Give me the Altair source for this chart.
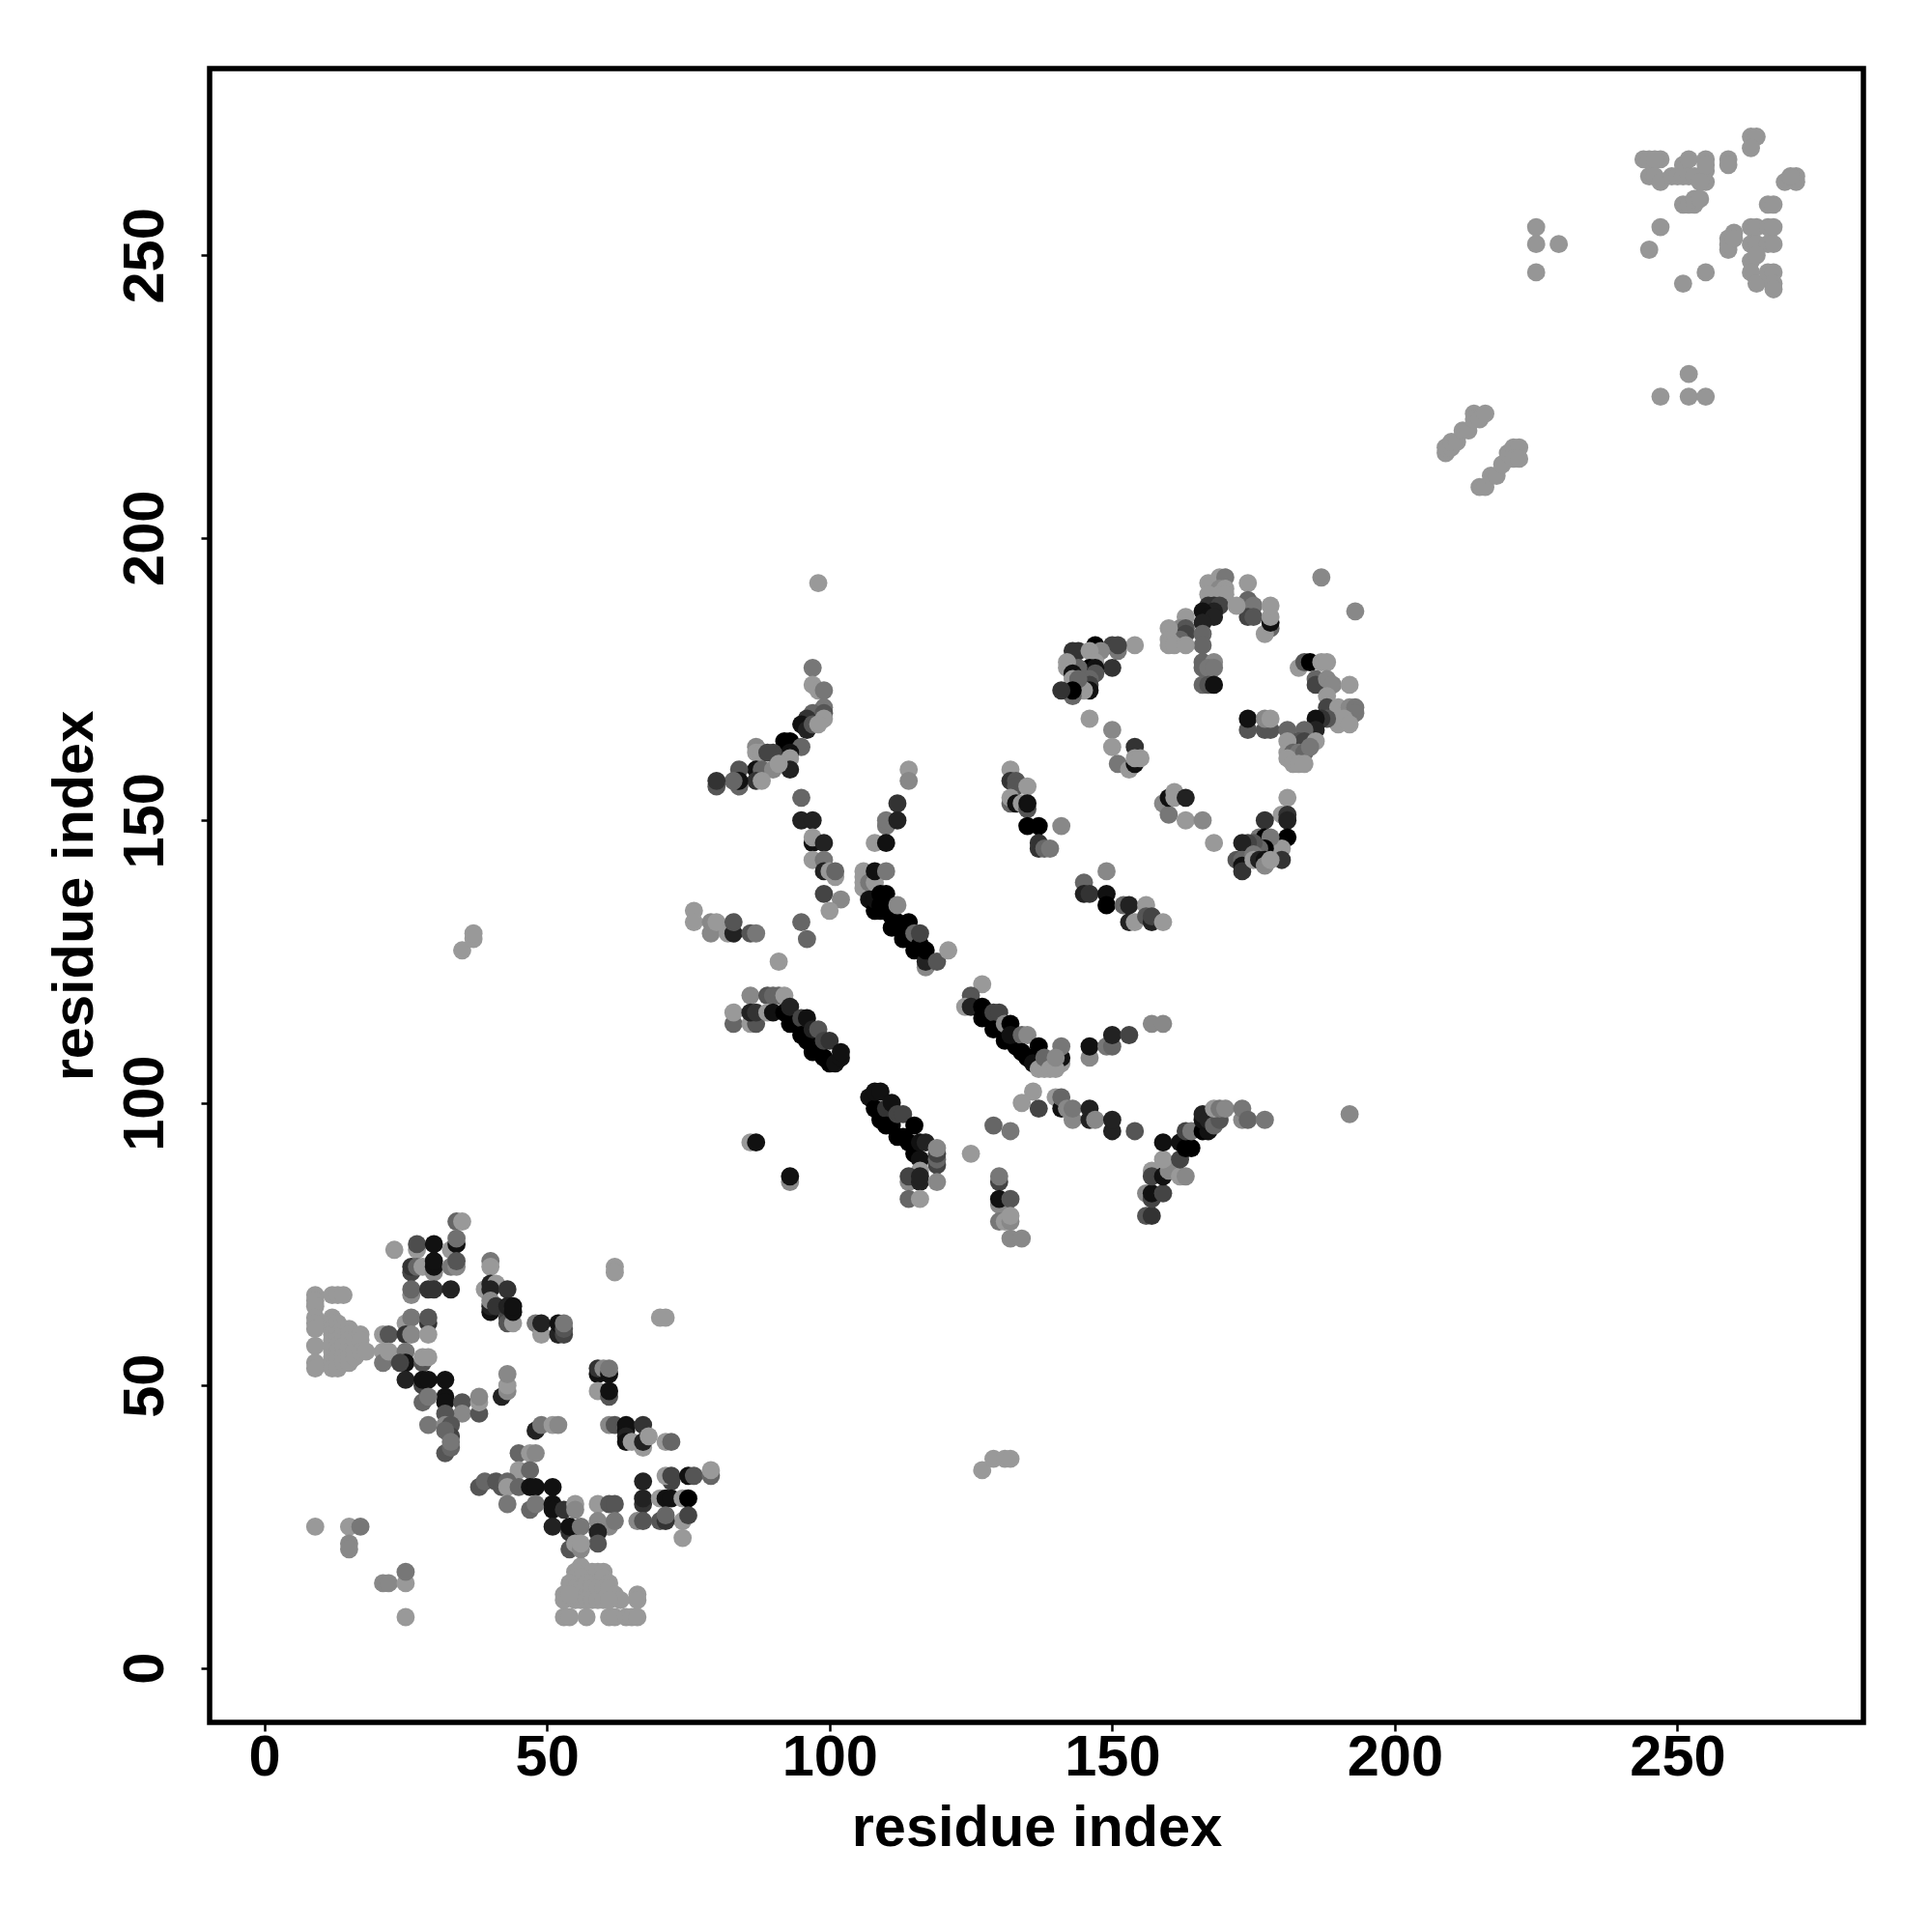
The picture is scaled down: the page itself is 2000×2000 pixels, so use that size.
import altair as alt
import pandas as pd

L = 0x99
M = 0x88

light_far = [(35,127),(37,129),(37,130),(127,35),(129,37),(131,37),(132,37)]

block_left = [(9,66),(9,65),(9,64),(9,62),(9,61),(9,60),(9,57),(9,54),(9,53),(12,66),(13,66),(14,66),
 (12,62),(12,61),(12,60),(12,59),(12,58),(12,57),(12,56),(12,55),(12,54),(12,53),(13,61),(13,60),(13,59),(13,58),
 (13,57),(13,56),(13,55),(13,54),(13,53),(14,60),(14,59),(14,58),(14,57),(14,55),(14,54),(15,60),(15,59),(15,58),
 (15,57),(15,56),(15,55),(15,54),(16,58),(16,56),(16,55),(17,59),(17,58),(17,56),(18,56)]

block_bottom = [(53,9),(54,9),(57,9),(61,9),(62,9),(64,9),(65,9),(66,9),(66,13),(66,12),(53,13),(53,12),(56,18),
 (55,17),(58,17),(59,17),(60,17),(55,16),(56,16),(54,15),(54,14),(55,14),(56,14),(57,15),(58,15),(59,15),(60,16),(61,15),
 (57,13),(58,14),(59,14),(60,14),(61,14),(62,13),(63,12),(55,12),(56,12),(57,12),(58,12),(59,12),(60,12),(61,12),(54,13)]

cluster_low = [
 (34,79,0x66),(35,79,0x99),(23,74,0x99),(27,74,0x99),(27,75,0x4d),(30,75,0x11),(33,74,0x99),(34,75,0x11),(34,76,0x70),
 (26,70,0x44),(26,71,0x33),(27,71,0x66),(28,71,0x99),(30,70,0x88),(30,71,0x11),(30,72,0x11),(33,71,0x77),(34,71,0x88),(34,72,0x55),
 (26,66,0x88),(26,67,0x66),(29,67,0x33),(30,67,0x33),(33,67,0x22),(62,71,L),(62,70,L),(70,62,L),(71,62,L),
 (21,59,L),(21,56,L),(21,54,0x77),(22,59,0x55),(22,56,L),(25,61,L),(25,59,0x33),(26,62,0x77),(26,59,0x88),(29,61,0x33),(29,62,0x55),(29,59,L),
 (25,56,0x77),(25,54,0x11),(24,54,0x44),(28,54,0x55),(28,55,L),(29,55,L),
 (25,51,0x22),(28,50,0x44),(28,51,0x11),(29,51,0x11),(32,51,0x11),(32,48,0x11),(32,47,0x11),(28,47,0x66),(29,48,0x77),
 (35,47,0x55),(35,45,0x88),(38,45,0x55),(38,47,L),(38,48,0x88),(32,45,0x55),
 (29,43,0x77),(32,43,0x88),(33,43,0x55),(33,41,0x44),(32,42,0x66),(32,38,0x55),(33,39,0x66),(33,40,0x77),
 (42,48,0x22),(43,49,0x88),(43,50,L),(43,52,0x88),(40,72,0x77),(40,71,L),
 (39,67,L),(40,68,0x22),(41,68,L),(40,67,0x22),(43,67,0x33),(40,63,0x11),(40,64,0x22),(40,65,0x88),(41,64,0x33),
 (43,62,0x44),(43,61,0x55),(44,61,L),(43,64,0x22),(44,63,0x11),(44,64,0x11),
 (48,61,0x77),(49,59,L),(49,61,0x22),(52,59,0x22),(53,59,0x44),(52,61,0x11),(53,60,0x55),(53,61,0x77),
 (59,52,0x11),(59,53,0x33),(60,53,0x88),(61,52,0x11),(61,53,0x77),(59,49,L),(61,48,0x55),(61,49,0x11),
 (61,43,0x88),(62,43,0x55),(64,42,0x11),(64,43,0x11),(64,41,0x22),(64,40,0x11),(67,43,0x33),(65,40,L),(67,39,L),(67,40,0x22),(68,41,L),(71,40,L),(72,40,0x66),
 (48,42,0x22),(49,43,0x77),(51,43,L),(52,43,0x88),(45,38,0x66),(47,38,L),(48,38,0x88),(45,35,L),(47,35,0x66),
 (38,32,0x55),(39,33,0x66),(41,33,0x55),(42,32,0x55),(43,33,0x66),(43,32,L),(45,32,0x66),(47,32,0x11),(48,32,0x11),(51,32,0x11),
 (43,29,0x77),(47,28,0x66),(48,29,0x77),(51,29,0x11),(51,28,0x11),(51,25,0x22),(53,28,0x33),(55,29,L),(55,28,0x88),
 (54,24,0x33),(54,25,0x11),(56,25,0x77),(59,29,L),(61,29,0x55),(62,29,0x55),(59,26,0x88),(61,25,0x88),(62,26,0x77),(59,24,0x22),(59,22,0x55),
 (54,21,0x55),(55,22,L),(56,21,0x88),(56,22,L),
 (67,33,0x22),(67,29,0x33),(67,30,0x22),(66,26,0x88),(67,26,0x55),(72,33,0x44),(71,34,L),(72,34,0x44),(70,30,L),(71,30,0x11),(72,30,0x11),
 (75,34,0x11),(76,34,0x55),(74,30,L),(75,30,0x00),(74,26,L),(75,27,0x44),(70,26,0x55),(71,26,0x33),(71,27,0x66),(74,23,L),(79,34,0x66),(79,35,L),
 (9,25,L),(15,25,L),(17,25,0x77),(15,22,M),(15,21,M),(21,15,M),(22,15,M),(25,15,L),(25,17,0x77),(25,9,L),
]

cluster_mid = [
 (76,134,L),(76,132,L),(79,130,M),(79,132,M),(80,132,L),(82,130,L),(83,130,0x22),(83,132,0x55),(86,130,0x55),(87,130,0x77),
 (95,132,0x66),(96,129,0x66),(91,125,L),(99,137,0x44),(102,136,M),(100,134,L),
 (106,141,L),(106,140,L),(106,139,L),(106,138,L),(107,139,0x77),(108,139,L),(108,141,0x11),(110,141,0x77),
 (107,136,0x11),(108,134,0x00),(108,136,0x11),(109,134,0x00),(109,135,0x00),(109,137,0x00),(110,134,0x00),(110,137,0x00),(111,131,0x00),(111,133,0x00),(111,135,0x00),(112,132,0x00),(112,135,M),
 (113,129,0x00),(113,131,0x00),(114,130,0x00),(114,132,0x00),(115,127,0x00),(115,129,0x00),(115,130,0x66),(116,128,0x00),(116,130,0x44),(117,124,M),(117,125,0x22),(117,127,0x00),(119,125,0x55),(121,127,L),
 (86,119,M),(89,119,0x55),(90,119,0x66),(91,119,0x66),(92,119,L),(83,114,0x66),(83,116,L),(86,114,L),(87,114,0x55),(86,116,0x22),(87,116,0x33),(89,116,L),(90,116,0x11),
 (92,116,0x00),(93,114,0x00),(93,117,0x22),(94,114,0x00),(95,115,0x44),(95,112,0x00),(96,111,0x00),(96,115,0x11),(97,109,0x00),(97,113,0x22),(98,109,0x00),(98,113,0x55),(99,108,0x00),(99,111,0x44),(100,107,0x00),(100,111,0x33),(101,107,0x11),(102,108,0x11),(102,109,0x11),
 (107,101,0x11),(108,99,0x00),(108,102,0x11),(109,97,0x00),(109,102,0x11),(110,99,0x33),(110,96,0x00),(111,96,0x00),(111,100,0x11),(112,94,0x00),(112,98,0x44),(113,94,0x00),(113,98,0x44),(114,93,0x00),(115,96,0x00),(115,91,0x00),
 (116,93,0x11),(116,90,0x11),(117,93,0x22),(119,89,0x44),(119,90,0x66),(119,91,0x44),(119,92,M),(116,88,L),(114,86,M),(114,87,0x44),(116,86,0x22),(116,87,0x22),(119,86,M),(114,83,0x66),(116,83,L),
 (86,93,L),(87,93,0x11),(93,86,M),(93,87,0x11),(125,91,L),(129,96,0x66),(132,95,0x77),(130,86,0x44),(130,87,0x77),(130,82,M),(130,83,0x11),(132,83,0x55),(130,79,0x77),(131,79,L),(132,79,M),(132,80,L),(132,76,M),(134,76,M),
 (127,121,L),(125,119,0x55),(124,117,L),(125,117,0x22),(127,117,0x00),(127,115,0x00),(129,116,0x44),(130,116,0x44),(129,113,0x00),(131,114,M),(132,114,0x00),(131,111,0x00),(133,110,0x00),(132,112,0x11),(134,112,0x66),(135,112,M),
 (134,109,0x00),(135,108,0x00),(136,107,0x11),(137,110,0x00),(141,107,L),(141,108,0x11),(141,110,0x77),(137,106,L),(138,106,L),(138,108,0x66),(139,106,L),(140,106,L),(140,108,M),
 (146,108,M),(146,110,0x11),(149,110,0x77),(150,110,0x66),(150,112,0x22),(153,112,0x44),(157,114,M),(159,114,M),
 (136,102,L),(134,100,L),(137,99,0x44),(140,101,L),(141,99,0x11),(141,101,0x66),(143,97,M),(142,99,M),(143,99,0x77),(146,97,0x22),(146,99,0x22),(147,97,M),(150,95,0x22),(150,97,0x22),(154,95,0x55),
 (156,80,0x55),(157,80,0x33),(156,84,M),(157,83,0x44),(157,84,0x11),(159,84,0x44),(157,88,L),(157,87,0x44),(159,87,0x11),(160,88,M),(159,90,L),(162,87,L),(163,87,M),(162,90,0x44),(159,93,0x11),(162,93,0x11),(163,92,0x00),(164,92,0x00),
 (163,95,0x44),(164,95,0x77),(166,95,0x00),(167,95,0x11),(166,97,0x11),(166,98,0x22),(167,97,0x22),(168,96,0x66),(169,97,0x55),(168,99,L),(169,99,0x77),(170,99,M),(173,97,M),(173,99,0x77),(174,97,0x66),(177,97,0x77),(192,98,M),
]

cluster_arc = [
 (98,192,L),(97,177,0x77),(97,174,L),(98,173,L),(99,173,0x77),(99,170,0x77),(97,169,0x66),(99,169,0x55),(96,168,0x33),(99,168,L),(95,167,0x11),(96,166,0x22),(97,167,0x55),(98,167,L),
 (92,164,0x00),(93,164,0x00),(93,163,0x00),(95,163,0x66),(93,162,0x11),(90,162,0x44),(93,161,L),(93,159,0x22),(87,163,M),(87,162,L),(88,162,L),(89,162,0x44),
 (87,159,0x11),(88,159,0x66),(90,159,M),(91,160,L),(87,157,0x33),(88,157,L),(84,159,0x55),(84,156,0x66),(84,157,0x11),(83,157,0x66),(80,156,0x55),(80,157,0x33),
 (95,154,0x66),(95,150,0x22),(97,150,0x22),(97,146,0x11),(97,147,L),(99,146,0x22),(97,143,L),(99,143,0x77),(99,141,0x22),(101,140,L),(100,141,L),(101,141,0x66),
 (114,159,L),(114,157,M),(112,153,0x33),(110,149,0x77),(110,150,0x77),(112,150,0x22),(108,146,L),(110,146,0x11),
 (154,181,L),(150,181,0x44),(151,180,0x77),(151,181,0x44),(147,181,0x00),(148,180,M),(143,180,0x33),(144,180,0x33),(146,180,L),(150,177,0x33),(147,178,L),(146,177,0x00),(147,177,0x11),(144,177,0x66),(142,178,L),(142,177,L),(143,176,0x11),
 (147,176,0x55),(146,175,0x66),(146,174,0x44),(146,173,0x11),(145,173,L),(143,175,L),(144,175,0x66),(143,172,0x66),(143,173,0x00),(141,173,0x33),
 (146,168,L),(150,166,M),(150,163,L),(151,160,0x77),(153,159,L),(154,160,0x11),(154,163,0x33),(154,161,L),(155,161,L),
 (174,192,L),(187,193,M),(193,187,M),(167,192,L),(169,193,L),(170,193,0x77),(169,191,M),(170,191,L),(167,190,L),(169,190,L),(170,190,L),
 (167,188,0x33),(168,188,0x33),(169,188,0x44),(168,187,0x22),(166,187,0x11),(167,186,0x11),(168,186,0x22),(166,185,0x22),(163,186,L),(162,184,M),(163,184,0x55),(163,183,0x44),(166,183,0x66),(166,181,0x66),(162,182,0x66),
 (160,184,L),(160,182,L),(160,181,L),(161,181,L),(163,181,L),
 (174,189,0x66),(175,188,0x77),(174,186,0x44),(175,186,0x55),(178,184,0x66),(177,183,L),(178,185,0x11),(178,186,L),(178,188,L),(172,188,L),
 (166,178,0x66),(168,178,M),(166,177,0x66),(167,177,0x77),(168,177,0x77),(166,174,0x66),(167,174,0x55),(168,174,0x11),
 (183,177,L),(184,178,0x55),(185,178,0x00),(187,178,L),(188,178,L),(186,175,0x66),(186,174,0x44),(188,175,M),(189,174,M),(192,174,L),(188,172,L),
 (188,170,0x44),(190,170,L),(192,170,M),(193,170,0x77),(193,169,0x77),(190,167,L),(191,168,L),(192,167,L),(188,168,0x55),(187,168,0x33),(186,168,0x11),(185,166,0x11),(186,166,0x22),
 (174,166,0x55),(174,168,0x11),(177,166,0x55),(178,166,0x55),(177,168,M),(178,168,L),(181,166,0x66),(184,166,0x66),(183,164,0x55),(184,164,0x44),(181,164,L),(186,164,L),
 (181,162,L),(182,162,0x66),(183,162,0x77),(184,162,0x66),(185,163,0x77),(181,161,L),(182,160,L),(183,160,L),(184,160,L),
 (132,159,L),(132,157,0x33),(133,157,0x55),(133,156,0x55),(135,156,L),(132,153,0x66),(132,154,L),(133,153,0x11),(134,153,L),(135,152,0x55),(135,153,0x11),(135,149,0x00),(137,149,0x00),(141,149,M),
 (137,146,0x33),(137,145,0x33),(138,145,0x66),(139,145,0x77),(149,141,M),(145,139,0x66),(145,137,0x22),(146,137,0x33),(149,137,0x11),(149,135,0x00),(152,135,0x66),(153,135,0x22),(156,135,L),
 (153,132,0x22),(154,132,L),(156,133,0x55),(157,132,0x22),(157,133,0x44),(159,132,L),
 (159,153,M),(160,151,0x77),(160,154,0x11),(161,155,L),(161,154,L),(163,154,0x22),(163,150,L),(166,150,M),(168,146,L),
 (181,154,L),(180,151,L),(181,151,0x33),(181,150,0x22),(181,147,0x00),(180,145,L),(180,143,0x33),(177,150,0x33),(176,147,0x77),(177,147,0x00),(178,147,0x77),(177,145,0x00),(176,145,0x66),
 (175,146,0x55),(174,146,0x44),(173,146,0x22),(172,143,0x55),(173,143,0x66),(173,142,0x11),(173,141,0x33),(175,144,0x77),(175,143,L),(176,143,0x22),(177,143,0x11),(177,142,M),(178,143,L),
]

light_top = [(225,255),(225,252),(229,252),(225,247),(247,255),(245,251),(251,245),(255,247),(252,229),(247,225),(252,225),(255,225),
 (209,215),(209,216),(210,216),(210,217),(211,217),(212,219),(213,219),(214,222),(214,221),(215,221),(216,222),
 (215,209),(216,209),(217,211),(218,211),(219,213),(220,215),(221,216),(222,216),(221,214),(222,214),
 (244,267),(245,267),(247,267),(246,267),(245,264),(246,264),(247,263),(249,264),(250,264),(251,266),(252,267),(255,267),(251,264),(252,264),(253,264),(255,265),(255,263),(255,266),(254,263),
 (259,267),(259,266),(251,259),(252,259),(253,259),(253,260),(254,260),(263,271),(264,271),(263,269),(269,263),(271,264),(271,263),(270,264),(266,259),(267,259),
 (259,253),(259,251),(259,252),(260,254),(260,253),(263,255),(264,255),(266,255),(267,255),(263,252),(264,252),(266,252),(267,252),(263,249),(264,250),(263,247),(264,245),(266,247),(267,247),(267,245),(267,244)]

rows = []
for x, y in light_far + block_left + block_bottom:
    rows.append((x, y, 0x99))
rows += cluster_low + cluster_mid + cluster_arc
for x, y in light_top:
    rows.append((x, y, 0x96))

df = pd.DataFrame(rows, columns=["x", "y", "g"])
df["color"] = [f"#{g:02x}{g:02x}{g:02x}" for g in df["g"]]

tick_values = [0, 50, 100, 150, 200, 250]
FONT = "Liberation Sans"

x_axis = alt.Axis(values=tick_values, title="residue index", grid=False, domain=False,
                  tickColor="black", tickWidth=2.5, tickSize=9, labelFont=FONT, labelFontWeight="bold",
                  labelFontSize=59.5, labelColor="black", labelPadding=-2, labelAngle=0, labelFlush=False,
                  titleFont=FONT, titleFontWeight="bold", titleFontSize=59.5, titleColor="black", titlePadding=15)
y_axis = alt.Axis(values=tick_values, title="residue index", grid=False, domain=False,
                  tickColor="black", tickWidth=2.5, tickSize=9, labelFont=FONT, labelFontWeight="bold",
                  labelFontSize=59.5, labelColor="black", labelPadding=40, labelAngle=270, labelAlign="center",
                  labelBaseline="alphabetic", labelFlush=False,
                  titleFont=FONT, titleFontWeight="bold", titleFontSize=59.5, titleColor="black", titlePadding=13)

chart = (
    alt.Chart(df)
    .mark_circle(size=355, opacity=1)
    .encode(
        x=alt.X("x:Q", scale=alt.Scale(domain=[-9.68, 282.9], nice=False, zero=False), axis=x_axis),
        y=alt.Y("y:Q", scale=alt.Scale(domain=[-9.64, 283.06], nice=False, zero=False), axis=y_axis),
        color=alt.Color("color:N", scale=None),
    )
    .properties(width=1712, height=1712, padding={"left": 209, "top": 63, "right": 50, "bottom": 200},
                autosize=alt.AutoSizeParams(type="none"), background="white")
    .configure_view(stroke="black", strokeWidth=5.5)
)

chart.save("out.html", embed_options={"renderer": "svg", "actions": False})
